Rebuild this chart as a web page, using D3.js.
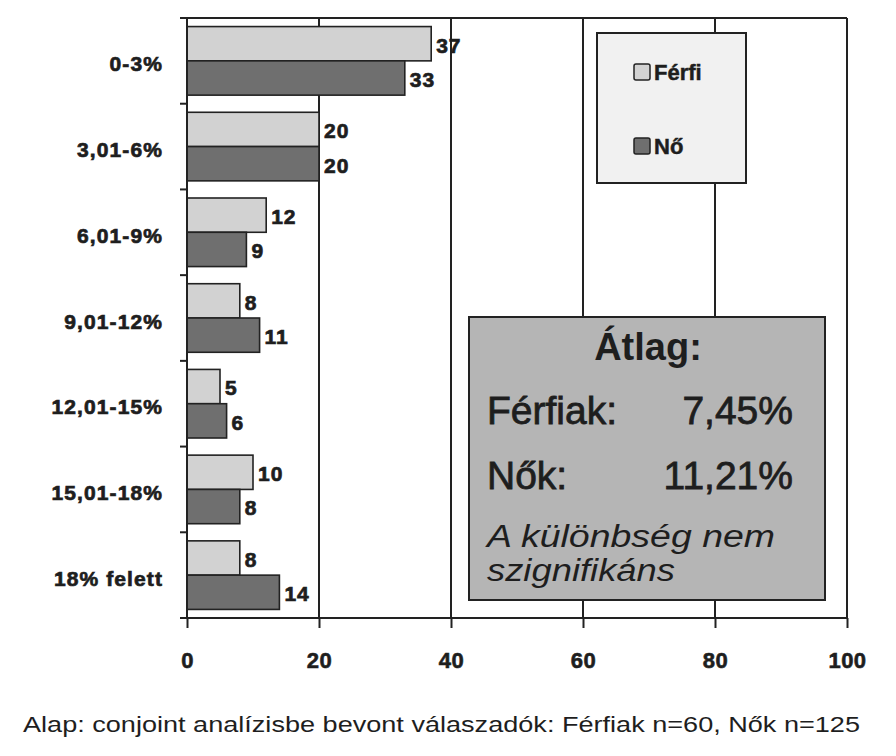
<!DOCTYPE html>
<html>
<head>
<meta charset="utf-8">
<script src="https://cdn.jsdelivr.net/npm/d3@7"></script>
<style>
  body { margin: 0; background: #fff; }
  svg text { font-family: "Liberation Sans", Arial, sans-serif; fill: #1e1e1e; }
</style>
</head>
<body>
<svg id="chart" width="896" height="756"></svg>
<script>
var categories = ["0-3%", "3,01-6%", "6,01-9%", "9,01-12%", "12,01-15%", "15,01-18%", "18% felett"];
var seriesNames = ["Férfi", "Nő"];
var ferfi = [37, 20, 12, 8, 5, 10, 8];
var noi = [33, 20, 9, 11, 6, 8, 14];
var xTicks = [0, 20, 40, 60, 80, 100];
var avgTitle = "Átlag:";
var avgLabels = ["Férfiak:", "Nők:"];
var avgValues = ["7,45%", "11,21%"];
var note = ["A különbség nem", "szignifikáns"];
var caption = "Alap: conjoint analízisbe bevont válaszadók: Férfiak n=60, Nők n=125";

var colors = { "Férfi": "#d2d2d2", "Nő": "#6f6f6f" };

var pLeft = 187, pRight = 847, pTop = 18, pBottom = 618;

var svg = d3.select("svg#chart");

var x = d3.scaleLinear().domain([0, 100]).range([pLeft, pRight]);
var y = d3.scaleBand().domain(categories).range([pTop, pBottom])
    .paddingInner(0.2).paddingOuter(0.1);
var ys = d3.scaleBand().domain(seriesNames).range([0, y.bandwidth()]);

var rows = categories.map(function (c, i) {
    return { cat: c, values: [{ s: "Férfi", v: ferfi[i] }, { s: "Nő", v: noi[i] }] };
});

// gridlines
svg.append("g")
    .selectAll("line")
    .data(xTicks.slice(1))
    .enter().append("line")
        .attr("x1", d => x(d)).attr("x2", d => x(d))
        .attr("y1", pTop).attr("y2", pBottom)
        .attr("stroke", "#222").attr("stroke-width", 2);

// top frame line
svg.append("line")
    .attr("x1", pLeft - 7).attr("x2", pRight)
    .attr("y1", pTop).attr("y2", pTop)
    .attr("stroke", "#222").attr("stroke-width", 2);

// bars
var groups = svg.append("g")
    .selectAll("g")
    .data(rows)
    .enter().append("g")
        .attr("transform", d => `translate(0,${y(d.cat)})`);

groups.selectAll("rect")
    .data(d => d.values)
    .enter().append("rect")
        .attr("x", x(0))
        .attr("y", d => ys(d.s))
        .attr("width", d => x(d.v) - x(0))
        .attr("height", ys.bandwidth())
        .attr("fill", d => colors[d.s])
        .attr("stroke", "#222")
        .attr("stroke-width", 1.6);

groups.selectAll("text")
    .data(d => d.values)
    .enter().append("text")
        .attr("x", d => x(d.v) + 5)
        .attr("y", d => ys(d.s) + ys.bandwidth() / 2)
        .attr("dy", "0.42em")
        .attr("font-size", 21)
        .attr("font-weight", "bold")
        .attr("letter-spacing", 1)
        .attr("stroke", "#1e1e1e").attr("stroke-width", 0.7)
        .text(d => d.v);

// x axis
var xAxis = svg.append("g")
    .attr("transform", `translate(0,${pBottom})`)
    .call(d3.axisBottom(x).tickValues(xTicks).tickSize(10).tickPadding(24));
xAxis.select(".domain").remove();
xAxis.selectAll(".tick line").attr("stroke", "#222").attr("stroke-width", 2);
xAxis.selectAll(".tick text")
    .attr("font-size", 22)
    .attr("font-weight", "bold")
    .attr("fill", "#1e1e1e")
    .attr("letter-spacing", 0.5)
    .attr("stroke", "#1e1e1e").attr("stroke-width", 0.6)
    .style("font-family", "'Liberation Sans', Arial, sans-serif");
svg.append("line")
    .attr("x1", pLeft - 7).attr("x2", pRight)
    .attr("y1", pBottom).attr("y2", pBottom)
    .attr("stroke", "#222").attr("stroke-width", 2);

// y axis
var yAxis = svg.append("g")
    .attr("transform", `translate(${pLeft},0)`)
    .call(d3.axisLeft(y).tickSize(0).tickPadding(24));
yAxis.select(".domain").remove();
yAxis.selectAll(".tick text")
    .attr("font-size", 21)
    .attr("font-weight", "bold")
    .attr("fill", "#1e1e1e")
    .attr("letter-spacing", 1.1)
    .attr("stroke", "#1e1e1e").attr("stroke-width", 0.7)
    .attr("dy", "0.5em")
    .style("font-family", "'Liberation Sans', Arial, sans-serif");
svg.append("line")
    .attr("x1", pLeft).attr("x2", pLeft)
    .attr("y1", pTop).attr("y2", pBottom)
    .attr("stroke", "#222").attr("stroke-width", 2);
svg.append("g")
    .selectAll("line")
    .data(categories.slice(1))
    .enter().append("line")
        .attr("x1", pLeft - 7).attr("x2", pLeft)
        .attr("y1", d => y(d) - y.step() * y.paddingInner() / 2)
        .attr("y2", d => y(d) - y.step() * y.paddingInner() / 2)
        .attr("stroke", "#222").attr("stroke-width", 2);

// legend
var legend = svg.append("g");
legend.append("rect")
    .attr("x", 597).attr("y", 33).attr("width", 149).attr("height", 150)
    .attr("fill", "#f1f1f1").attr("stroke", "#222").attr("stroke-width", 2);
var li = legend.selectAll("g.item")
    .data(seriesNames)
    .enter().append("g")
        .attr("class", "item")
        .attr("transform", (d, i) => `translate(634,${64 + i * 74})`);
li.append("rect")
    .attr("width", 16).attr("height", 16).attr("rx", 2)
    .attr("fill", d => colors[d]).attr("stroke", "#222").attr("stroke-width", 1.5);
li.append("text")
    .attr("x", 20).attr("y", 16)
    .attr("font-size", 22).attr("font-weight", "bold")
    .attr("stroke", "#1e1e1e").attr("stroke-width", 0.5)
    .text(d => d);

// average box
var box = svg.append("g");
box.append("rect")
    .attr("x", 469).attr("y", 317).attr("width", 356).attr("height", 283)
    .attr("fill", "#b5b5b5").attr("stroke", "#222").attr("stroke-width", 2);
box.append("text")
    .attr("x", 648).attr("y", 360)
    .attr("text-anchor", "middle")
    .attr("font-size", 38).attr("font-weight", "bold")
    .text(avgTitle);
avgLabels.forEach(function (lab, i) {
    box.append("text")
        .attr("x", 487).attr("y", 424 + i * 65)
        .attr("font-size", 39)
        .attr("stroke", "#1e1e1e").attr("stroke-width", 0.8)
        .text(lab);
    box.append("text")
        .attr("x", 793).attr("y", 424 + i * 65)
        .attr("text-anchor", "end")
        .attr("font-size", 39)
        .attr("stroke", "#1e1e1e").attr("stroke-width", 0.8)
        .text(avgValues[i]);
});
var noteLen = [288, 188];
note.forEach(function (t, i) {
    box.append("text")
        .attr("x", 487).attr("y", 547 + i * 34)
        .attr("font-size", 31).attr("font-style", "italic")
        .attr("fill", "#2a2a2a")
        .attr("textLength", noteLen[i]).attr("lengthAdjust", "spacingAndGlyphs")
        .text(t);
});

// caption
svg.append("text")
    .attr("x", 23).attr("y", 732)
    .attr("font-size", 22)
    .attr("fill", "#222")
    .attr("textLength", 837).attr("lengthAdjust", "spacingAndGlyphs")
    .text(caption);
</script>
</body>
</html>
